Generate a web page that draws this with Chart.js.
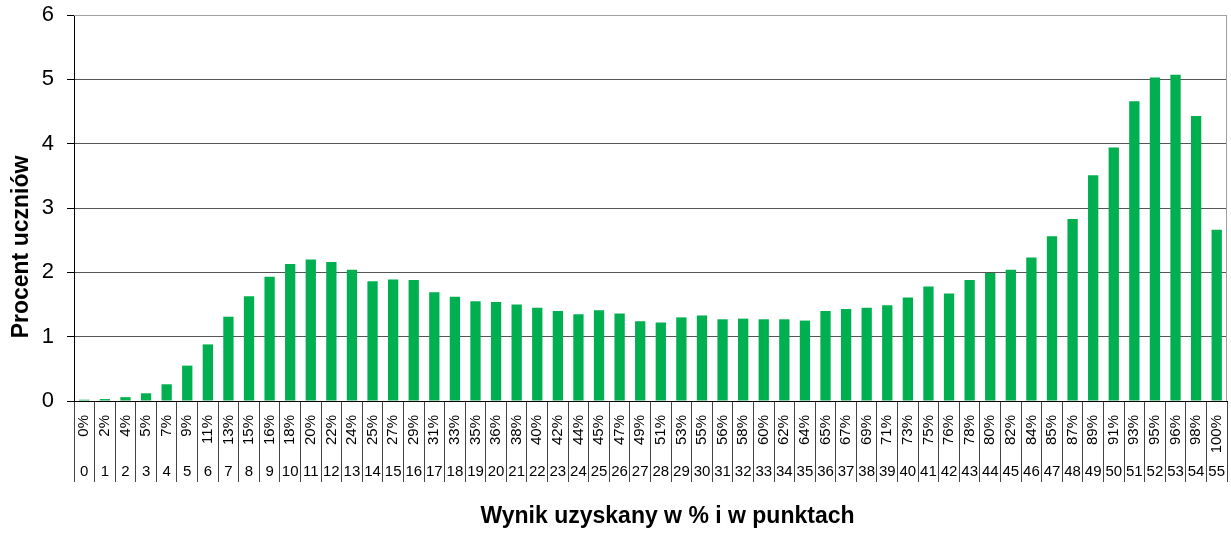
<!DOCTYPE html>
<html lang="pl">
<head>
<meta charset="utf-8">
<title>Wynik uzyskany w % i w punktach</title>
<script src="https://cdn.jsdelivr.net/npm/chart.js@4/dist/chart.umd.min.js"></script>
<style>
  html, body { margin: 0; padding: 0; background: #fff; }
  #chart { display: block; }
</style>
</head>
<body>
<canvas id="chart" width="1231" height="533"></canvas>
<script>
/* ========= DATA ========= */
const points = ['0','1','2','3','4','5','6','7','8','9','10','11','12','13','14','15','16','17','18','19',
  '20','21','22','23','24','25','26','27','28','29','30','31','32','33','34','35','36','37','38','39',
  '40','41','42','43','44','45','46','47','48','49','50','51','52','53','54','55'];
const percents = ['0%','2%','4%','5%','7%','9%','11%','13%','15%','16%','18%','20%','22%','24%','25%','27%',
  '29%','31%','33%','35%','36%','38%','40%','42%','44%','45%','47%','49%','51%','53%','55%','56%',
  '58%','60%','62%','64%','65%','67%','69%','71%','73%','75%','76%','78%','80%','82%','84%','85%',
  '87%','89%','91%','93%','95%','96%','98%','100%'];
const studentShare = [0.02, 0.03, 0.06, 0.12, 0.26, 0.55, 0.88, 1.31, 1.63, 1.93,
  2.13, 2.20, 2.16, 2.04, 1.86, 1.89, 1.88, 1.69, 1.62, 1.55,
  1.54, 1.50, 1.45, 1.40, 1.35, 1.41, 1.36, 1.24, 1.22, 1.30,
  1.33, 1.27, 1.28, 1.27, 1.27, 1.25, 1.40, 1.43, 1.45, 1.49,
  1.61, 1.78, 1.67, 1.88, 1.99, 2.04, 2.23, 2.56, 2.83, 3.51,
  3.94, 4.66, 5.03, 5.07, 4.43, 2.66];
const yTicks = [0, 1, 2, 3, 4, 5, 6];

const FONT = "'Liberation Sans', Arial, sans-serif";

/* ========= PLUGINS ========= */
// grey frame on top/right of the plot
const plotFrame = {
  id: 'plotFrame',
  beforeDatasetsDraw(chart) {
    const { ctx, chartArea: a } = chart;
    ctx.save();
    ctx.strokeStyle = '#a0a0a0';
    ctx.lineWidth = 1;
    ctx.beginPath();
    ctx.moveTo(a.left, a.top + 0.5);
    ctx.lineTo(a.right - 0.5, a.top + 0.5);
    ctx.lineTo(a.right - 0.5, a.bottom);
    ctx.stroke();
    ctx.restore();
  }
};

// two-row category labels (percent rotated + points) and axis titles
const labelTable = {
  id: 'labelTable',
  afterDraw(chart) {
    const { ctx } = chart;
    const x = chart.scales.x;
    const y = chart.scales.y;
    ctx.save();
    ctx.fillStyle = '#000';
    ctx.font = '15px ' + FONT;
    percents.forEach((p, i) => {
      const px = x.getPixelForValue(i);
      ctx.save();
      ctx.translate(px, x.top + 14);
      ctx.rotate(-Math.PI / 2);
      ctx.textAlign = 'right';
      ctx.textBaseline = 'middle';
      ctx.fillText(p, 0, 0);
      ctx.restore();
    });
    ctx.textAlign = 'center';
    ctx.textBaseline = 'middle';
    points.forEach((p, i) => {
      ctx.fillText(p, x.getPixelForValue(i), x.top + 71);
    });

    // axis titles
    ctx.font = 'bold 23px ' + FONT;
    ctx.fillText('Wynik uzyskany w % i w punktach', (x.left + x.right) / 2 + 17, 517);
    ctx.save();
    ctx.translate(22, (y.top + y.bottom) / 2 + 39);
    ctx.rotate(-Math.PI / 2);
    ctx.fillText('Procent uczniów', 0, 0);
    ctx.restore();
    ctx.restore();
  }
};

/* ========= CHART ========= */
new Chart(document.getElementById('chart'), {
  type: 'bar',
  data: {
    labels: points,
    datasets: [{
      data: studentShare,
      backgroundColor: '#00b050',
      borderWidth: 0,
      categoryPercentage: 1,
      barPercentage: 0.5
    }]
  },
  options: {
    responsive: false,
    animation: false,
    devicePixelRatio: 1,
    layout: { padding: { top: 15, right: 4, bottom: 0, left: 0 } },
    plugins: { legend: { display: false }, tooltip: { enabled: false } },
    scales: {
      x: {
        ticks: { display: false },
        grid: {
          offset: true,
          drawOnChartArea: false,
          drawTicks: true,
          tickLength: 81,
          color: '#444',
          tickColor: '#444'
        },
        border: { color: '#000', width: 1 },
        afterFit: s => { s.height = 132; }
      },
      y: {
        min: 0,
        max: 6,
        afterBuildTicks: s => { s.ticks = yTicks.map(v => ({ value: v })); },
        ticks: {
          color: '#000',
          padding: 13,
          font: { family: FONT, size: 22 }
        },
        grid: {
          color: c => (c.tick && c.tick.value === 6 ? '#a0a0a0' : '#555'),
          tickColor: '#000',
          tickLength: 7
        },
        border: { color: '#000', width: 1 },
        afterFit: s => { s.width = 74; s.paddingTop = 0; s.paddingBottom = 0; }
      }
    }
  },
  plugins: [plotFrame, labelTable]
});
</script>
</body>
</html>
